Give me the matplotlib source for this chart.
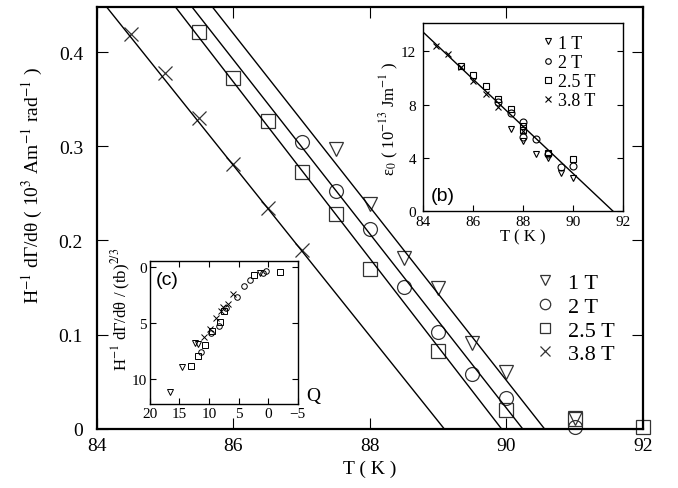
import matplotlib

matplotlib.use("Agg")
import matplotlib.pyplot as plt
import numpy as np

plt.rcParams["font.family"] = ["Liberation Serif", "DejaVu Serif"]
plt.rcParams["mathtext.fontset"] = "stix"

# main panel: H^-1 dGamma/dtheta against T for each field
t_1t = [87.5, 88.0, 88.5, 89.0, 89.5, 90.0, 91.0]
g_1t = [0.297, 0.239, 0.181, 0.149, 0.091, 0.060, 0.012]
t_2t = [87.0, 87.5, 88.0, 88.5, 89.0, 89.5, 90.0, 91.0]
g_2t = [0.305, 0.253, 0.212, 0.151, 0.103, 0.058, 0.033, 0.002]
t_25t = [85.5, 86.0, 86.5, 87.0, 87.5, 88.0, 89.0, 90.0, 91.0, 92.0]
g_25t = [0.421, 0.372, 0.327, 0.273, 0.228, 0.170, 0.083, 0.020, 0.010, 0.002]
t_38t = [84.5, 85.0, 85.5, 86.0, 86.5, 87.0]
g_38t = [0.419, 0.378, 0.330, 0.281, 0.234, 0.190]

# fitted straight lines: temperature where the line meets zero, and slope
fit_t0 = [90.56, 90.24, 89.93, 89.09]
fit_slope = [0.0920, 0.0924, 0.0937, 0.0905]

# inset (b): epsilon_0 against T
b_t_1t = [87.5, 88.0, 88.5, 89.0, 89.5, 90.0]
b_e_1t = [6.2, 5.3, 4.3, 4.0, 2.9, 2.5]
b_t_2t = [87.0, 87.5, 88.0, 88.0, 88.5, 89.0, 89.5, 90.0]
b_e_2t = [8.2, 7.4, 6.7, 5.6, 5.4, 4.3, 3.3, 3.4]
b_t_25t = [85.5, 86.0, 86.5, 87.0, 87.5, 88.0, 88.0, 89.0, 90.0]
b_e_25t = [10.9, 10.2, 9.4, 8.4, 7.7, 6.4, 6.1, 4.4, 3.9]
b_t_38t = [84.5, 85.0, 85.5, 86.0, 86.5, 87.0, 88.0]
b_e_38t = [12.4, 11.8, 10.8, 9.8, 8.8, 7.8, 6.0]
b_fit_t0 = 91.6
b_fit_slope = 1.77

# inset (c): scaled dGamma/dtheta against Q
c_q_1t = [16.6, 14.5, 12.4, 11.8, 1.4]
c_y_1t = [11.1, 8.9, 6.8, 6.9, 0.6]
c_q_2t = [11.3, 9.6, 8.35, 7.05, 5.25, 4.1, 3.1, 0.9, 0.3]
c_y_2t = [7.6, 5.9, 5.3, 3.7, 2.7, 1.7, 1.2, 0.6, 0.36]
c_q_25t = [13.1, 11.9, 10.7, 9.5, 8.2, 7.4, 2.3, -2.1]
c_y_25t = [8.8, 7.9, 7.0, 5.7, 4.9, 3.9, 0.75, 0.45]
c_q_38t = [10.8, 9.9, 8.85, 8.0, 7.7, 6.8, 5.9]
c_y_38t = [6.25, 5.5, 4.6, 3.9, 3.6, 3.3, 2.4]

labels = ["1 T", "2 T", "2.5 T", "3.8 T"]
markers = ["v", "o", "s", "x"]

fig = plt.figure(figsize=(6.78, 4.89), dpi=100)

# ---- main axes
ax = fig.add_axes([0.143, 0.121, 0.805, 0.863])
main_sets = [(t_1t, g_1t), (t_2t, g_2t), (t_25t, g_25t), (t_38t, g_38t)]
handles = []
for (tt, gg), mk, lab in zip(main_sets, markers, labels):
    (h,) = ax.plot(tt, gg, linestyle="none", marker=mk, ms=10, mfc="none",
                   mec="#333333", mew=0.9, label=lab, clip_on=False)
    handles.append(h)
tline = np.array([84.0, 92.0])
for t0, s in zip(fit_t0, fit_slope):
    ax.plot(tline, s * (t0 - tline), color="black", lw=1.0)

ax.set_xlim(84, 92)
ax.set_ylim(0, 0.448)
ax.set_xticks([84, 86, 88, 90, 92])
ax.set_yticks([0, 0.1, 0.2, 0.3, 0.4])
ax.set_yticklabels(["0", "0.1", "0.2", "0.3", "0.4"])
ax.tick_params(direction="in", top=True, right=True, length=8, width=0.8,
               labelsize=14)
ax.tick_params(axis="y", pad=10)
ax.tick_params(axis="x", pad=6)
for sp in ax.spines.values():
    sp.set_linewidth(1.6)
ax.set_xlabel("T ( K )", fontsize=14, labelpad=4)
ax.set_ylabel(r"H$^{-1}$ dΓ/dθ ( 10$^{3}$ Am$^{-1}$ rad$^{-1}$ )", fontsize=14)
ax.yaxis.set_label_coords(-0.095, 0.58)
ax.legend(handles=handles, loc="upper left", bbox_to_anchor=(0.8, 0.37),
          frameon=False, handlelength=1.0, handletextpad=0.55, labelspacing=0.14,
          borderpad=0, borderaxespad=0, markerscale=0.75,
          prop={"size": 16})

# ---- inset (b)
axb = fig.add_axes([0.624, 0.566, 0.295, 0.384])
b_sets = [(b_t_1t, b_e_1t), (b_t_2t, b_e_2t), (b_t_25t, b_e_25t), (b_t_38t, b_e_38t)]
bh = []
for (tt, ee), mk, lab in zip(b_sets, markers, labels):
    (h,) = axb.plot(tt, ee, linestyle="none", marker=mk, ms=5, mfc="none",
                    mec="black", mew=0.8, label=lab)
    bh.append(h)
axb.plot(tline, b_fit_slope * (b_fit_t0 - tline), color="black", lw=1.0)
axb.set_xlim(84, 92)
axb.set_ylim(0, 14.1)
axb.set_xticks([84, 86, 88, 90, 92])
axb.set_yticks([0, 4, 8, 12])
axb.tick_params(direction="in", right=True, length=4, width=0.8, labelsize=11)
axb.tick_params(axis="y", pad=5)
axb.tick_params(axis="x", pad=3)
for sp in axb.spines.values():
    sp.set_linewidth(1.0)
axb.set_xlabel("T ( K )", fontsize=12, labelpad=0)
axb.set_ylabel(r"ε$_0$ ( 10$^{-13}$ Jm$^{-1}$ )", fontsize=12, labelpad=0)
axb.text(0.04, 0.06, "(b)", transform=axb.transAxes, fontsize=14,
         family=["Liberation Sans", "DejaVu Sans"])
axb.legend(handles=bh, loc="upper left", bbox_to_anchor=(0.6, 0.94),
           frameon=False, handlelength=0.6, handletextpad=0.25, labelspacing=0.12,
           borderpad=0, borderaxespad=0, markerscale=0.8, prop={"size": 13})

# ---- inset (c)
axc = fig.add_axes([0.221, 0.172, 0.218, 0.292])
c_sets = [(c_q_1t, c_y_1t), (c_q_2t, c_y_2t), (c_q_25t, c_y_25t), (c_q_38t, c_y_38t)]
for (qq, yy), mk in zip(c_sets, markers):
    axc.plot(qq, yy, linestyle="none", marker=mk, ms=4, mfc="none",
             mec="black", mew=0.7)
axc.set_xlim(20, -5)
axc.set_ylim(12.2, -0.5)
axc.set_xticks([20, 15, 10, 5, 0, -5])
axc.set_yticks([0, 5, 10])
axc.tick_params(direction="in", top=True, right=True, length=4, width=0.8,
                labelsize=11, pad=2)
for sp in axc.spines.values():
    sp.set_linewidth(1.0)
axc.set_ylabel(r"H$^{-1}$ dΓ/dθ / (tb)$^{2/3}$", fontsize=12)
axc.yaxis.set_label_coords(-0.115, 0.67)
axc.text(0.04, 0.84, "(c)", transform=axc.transAxes, fontsize=14,
         family=["Liberation Sans", "DejaVu Sans"])
axc.text(1.06, 0.03, "Q", transform=axc.transAxes, fontsize=14)

fig.savefig("out.png", dpi=100)
